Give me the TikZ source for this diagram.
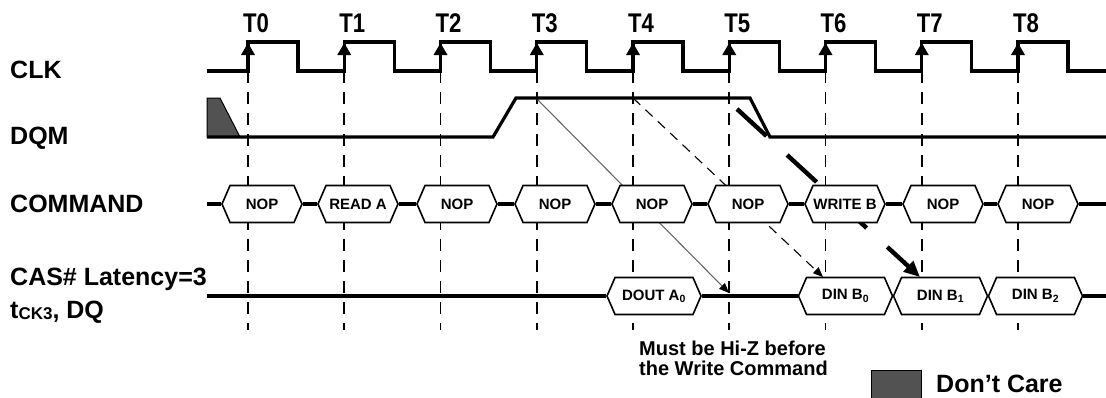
\documentclass[tikz,border=0pt]{standalone}
\usepackage{fontspec}
\setmainfont{Liberation Sans}
\usetikzlibrary{positioning,arrows.meta,shapes.symbols}

\begin{document}
\begin{tikzpicture}[x=1pt,y=-1pt,
      wave/.style={line width=3.2pt,line join=miter},
      edgeline/.style={line width=1.6pt,dash pattern=on 12pt off 9pt},
      cmd/.style={signal,signal to=east and west,signal pointer angle=133,draw,fill=white,
                  line width=1.6pt,minimum height=37pt,minimum width=80pt,inner sep=0pt,
                  font=\fontsize{15}{15}\selectfont\bfseries},
      dq/.style={cmd,minimum width=94pt},
      lbl/.style={anchor=base west,inner sep=0pt,font=\fontsize{25}{25}\selectfont\bfseries},
      tlbl/.style={inner sep=0pt,font=\fontsize{27}{27}\selectfont\bfseries},
      dc/.style={fill=black!68,draw=black,line width=1pt},
      fl/.style={line width=1.1pt,-{Triangle[length=10pt,width=8pt,color=black]}}]
    \useasboundingbox (0,0) rectangle (1106,397);
    % clock edges, dashed guides and labels
    \foreach \k in {0,...,8}{
      \draw[edgeline] ({248+96.25*\k},71) -- ({248+96.25*\k},330);
      \node[tlbl] (t\k) at ({256+96.25*\k},23) {\scalebox{0.82}[1]{T\k}};
    }
    % signal names
    \node[lbl] (clk) at (10,78) {CLK};
    \node[lbl] (dqm) at (10,144) {DQM};
    \node[lbl] (command) at (10,212) {COMMAND};
    \node[lbl] (cas) at (10,285) {CAS\# Latency=3};
    \node[lbl] (tck) at (10,318) {t\raisebox{-1.5pt}{\fontsize{17}{17}\selectfont CK3}, DQ};
    % arrows from DQM to DQ
    \coordinate (m3) at (536,98);
    \coordinate (m4) at (633,98);
    \coordinate (m5) at (737,109);
    \coordinate (z5) at (729,293);
    \coordinate (z6) at (823,277);
    \coordinate (z7) at (920,277);
    \draw[fl,black!60] (m3) -- (z5);
    \draw[fl,dash pattern=on 10pt off 7pt] (m4) -- (z6);
    \draw[line width=4.4pt,dash pattern=on 40pt off 28pt,-{Triangle[length=16pt,width=14pt]}] (m5) -- (z7);
    % CLK
    \draw[wave] (207,71) \foreach \k in {0,...,8}{
        -- ({248+96.25*\k},71) -- ({248+96.25*\k},42) -- ({298+96.25*\k},42) -- ({298+96.25*\k},71)}
        -- (1106,71);
    \foreach \k in {0,...,8}
      \fill ({241+96.25*\k},55) -- ({248+96.25*\k},43) -- ({255+96.25*\k},55) -- cycle;
    % DQM
    \filldraw[dc] (207,98) -- (220,98) -- (240,137) -- (207,137) -- cycle;
    \draw[wave] (207,137) -- (493,137) -- (516,98) -- (750,98) -- (770,137) -- (1106,137);
    % COMMAND
    \node[cmd] (c0) at (262,204) {NOP};
    \node[cmd] (c1) at (358,204) {READ A};
    \node[cmd] (c2) at (457,204) {NOP};
    \node[cmd] (c3) at (555,204) {NOP};
    \node[cmd] (c4) at (652,204) {NOP};
    \node[cmd] (c5) at (748,204) {NOP};
    \node[cmd] (c6) at (845,204) {WRITE B};
    \node[cmd] (c7) at (943,204) {NOP};
    \node[cmd] (c8) at (1038,204) {NOP};
    \coordinate (cl) at (207,204);
    \coordinate (cr) at (1106,204);
    \draw[wave] (cl) -- (c0.west);
    \foreach \a/\b in {0/1,1/2,2/3,3/4,4/5,5/6,6/7,7/8}
      \draw[wave] (c\a.east) -- (c\b.west);
    \draw[wave] (c8.east) -- (cr);
    % DQ
    \node[dq] (dout) at (654,296) {DOUT A\textsubscript{0}};
    \node[dq] (din0) at (845.5,296) {DIN B\textsubscript{0}};
    \node[dq] (din1) at (940.5,296) {DIN B\textsubscript{1}};
    \node[dq] (din2) at (1035.5,296) {DIN B\textsubscript{2}};
    \coordinate (ql) at (207,296);
    \coordinate (qr) at (1106,296);
    \draw[wave] (ql) -- (dout.west);
    \draw[wave] (dout.east) -- (din0.west);
    \draw[wave] (din2.east) -- (qr);
    \node[anchor=west,align=left,inner sep=0pt,font=\fontsize{20}{20}\selectfont\bfseries] (hiz) at (639,358)
      {Must be Hi-Z before\\the Write Command};
    % legend
    \node[dc,minimum width=50pt,minimum height=32pt,inner sep=0pt] (dcbox) at (896,386) {};
    \node[anchor=base west,inner sep=0pt,font=\fontsize{25}{25}\selectfont\bfseries] (dclbl) at (936,392) {Don’t Care};
  \end{tikzpicture}
\end{document}
